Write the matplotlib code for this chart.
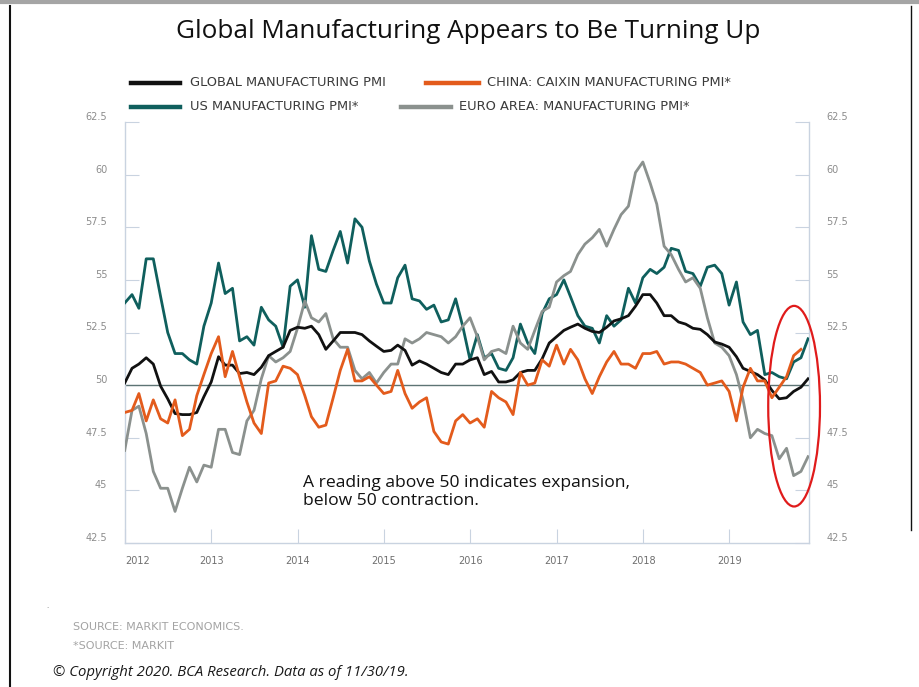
import numpy as np
import pandas as pd
import matplotlib
matplotlib.use("Agg")
import matplotlib.pyplot as plt
import matplotlib.dates as mdates
from matplotlib.patches import Ellipse
from matplotlib.lines import Line2D
from matplotlib.transforms import ScaledTranslation

# monthly readings, Dec 2011 .. Nov 2019
global_pmi = [
    50.1, 50.8, 51.0, 51.3, 51.0, 49.95, 49.35, 48.65, 48.6, 48.6, 48.7, 49.45, 50.15, 51.35, 50.95, 50.95,
    50.55, 50.6, 50.5, 50.85, 51.4, 51.6, 51.8, 52.6, 52.75, 52.7, 52.8, 52.4, 51.7, 52.1, 52.5, 52.5,
    52.5, 52.4, 52.1, 51.85, 51.6, 51.65, 51.9, 51.65, 50.95, 51.15, 51.0, 50.8, 50.6, 50.5, 51.0, 51.0,
    51.2, 51.3, 50.5, 50.65, 50.15, 50.15, 50.25, 50.6, 50.7, 50.7, 51.25, 52.0, 52.3, 52.6, 52.75, 52.9,
    52.7, 52.55, 52.5, 52.75, 53.05, 53.15, 53.3, 53.75, 54.3, 54.3, 53.9, 53.3, 53.3, 53.0, 52.9, 52.7,
    52.65, 52.4, 52.05, 51.95, 51.8, 51.35, 50.8, 50.65, 50.5, 50.25, 49.75, 49.35, 49.4, 49.7, 49.9, 50.3,
]
us_pmi = [
    53.9, 54.3, 53.65, 56.0, 56.0, 54.2, 52.5, 51.5, 51.5, 51.2, 51.0, 52.8, 53.9, 55.8, 54.35, 54.6,
    52.1, 52.3, 51.9, 53.7, 53.1, 52.8, 51.8, 54.7, 55.0, 53.7, 57.1, 55.5, 55.4, 56.4, 57.3, 55.8,
    57.9, 57.5, 55.9, 54.8, 53.9, 53.9, 55.1, 55.7, 54.1, 54.0, 53.6, 53.8, 53.0, 53.1, 54.1, 52.8,
    51.2, 52.4, 51.3, 51.5, 50.8, 50.7, 51.3, 52.9, 52.0, 51.5, 53.4, 54.1, 54.3, 55.0, 54.2, 53.3,
    52.8, 52.7, 52.0, 53.3, 52.8, 53.1, 54.6, 53.9, 55.1, 55.5, 55.3, 55.6, 56.5, 56.4, 55.4, 55.3,
    54.7, 55.6, 55.7, 55.3, 53.8, 54.9, 53.0, 52.4, 52.6, 50.5, 50.6, 50.4, 50.3, 51.1, 51.3, 52.2,
]
euro_pmi = [
    46.9, 48.8, 49.0, 47.7, 45.9, 45.1, 45.1, 44.0, 45.1, 46.1, 45.4, 46.2, 46.1, 47.9, 47.9, 46.8,
    46.7, 48.3, 48.8, 50.3, 51.4, 51.1, 51.3, 51.6, 52.7, 54.0, 53.2, 53.0, 53.4, 52.2, 51.8, 51.8,
    50.7, 50.3, 50.6, 50.1, 50.6, 51.0, 51.0, 52.2, 52.0, 52.2, 52.5, 52.4, 52.3, 52.0, 52.3, 52.8,
    53.2, 52.3, 51.2, 51.6, 51.7, 51.5, 52.8, 52.0, 51.7, 52.6, 53.5, 53.7, 54.9, 55.2, 55.4, 56.2,
    56.7, 57.0, 57.4, 56.6, 57.4, 58.1, 58.5, 60.1, 60.6, 59.6, 58.6, 56.6, 56.2, 55.5, 54.9, 55.1,
    54.6, 53.2, 52.0, 51.8, 51.4, 50.5, 49.3, 47.5, 47.9, 47.7, 47.6, 46.5, 47.0, 45.7, 45.9, 46.6,
]
# China ends one month earlier (Oct 2019)
china_pmi = [
    48.7, 48.8, 49.6, 48.3, 49.3, 48.4, 48.2, 49.3, 47.6, 47.9, 49.5, 50.5, 51.5, 52.3, 50.4, 51.6,
    50.4, 49.2, 48.2, 47.7, 50.1, 50.2, 50.9, 50.8, 50.5, 49.5, 48.5, 48.0, 48.1, 49.4, 50.7, 51.7,
    50.2, 50.2, 50.4, 50.0, 49.6, 49.7, 50.7, 49.6, 48.9, 49.2, 49.4, 47.8, 47.3, 47.2, 48.3, 48.6,
    48.2, 48.4, 48.0, 49.7, 49.4, 49.2, 48.6, 50.6, 50.0, 50.1, 51.2, 50.9, 51.9, 51.0, 51.7, 51.2,
    50.3, 49.6, 50.4, 51.1, 51.6, 51.0, 51.0, 50.8, 51.5, 51.5, 51.6, 51.0, 51.1, 51.1, 51.0, 50.8,
    50.6, 50.0, 50.1, 50.2, 49.7, 48.3, 49.9, 50.8, 50.2, 50.2, 49.4, 49.9, 50.4, 51.4, 51.7,
]
years = [2012, 2013, 2014, 2015, 2016, 2017, 2018, 2019]
y_ticks = [42.5, 45, 47.5, 50, 52.5, 55, 57.5, 60, 62.5]

dates = pd.date_range("2011-12-31", periods=len(global_pmi), freq="ME")

C_GLOBAL = "#111111"
C_CHINA = "#e35b1c"
C_US = "#0f5f5d"
C_EURO = "#8b918e"
C_AXIS = "#c9d3e0"
C_TICKTXT = "#8c8c8c"

fig = plt.figure(figsize=(9.2, 6.87), dpi=100)
W, H = 920, 687

def fx(px):
    return px / W

def fy(py):
    return 1 - py / H

ax = fig.add_axes([fx(124.7), fy(543), fx(809) - fx(124.7), fy(122) - fy(543)])

lw = 2.0
ax.plot(dates, global_pmi, color=C_GLOBAL, lw=lw, zorder=4)
ax.plot(dates[:len(china_pmi)], china_pmi, color=C_CHINA, lw=lw, zorder=5)
ax.plot(dates, us_pmi, color=C_US, lw=lw, zorder=3)
ax.plot(dates, euro_pmi, color=C_EURO, lw=lw, zorder=3.5)
ax.axhline(50, color="#5d7474", lw=1.0, zorder=2)

ax.set_ylim(42.5, 62.5)
ax.set_xlim(pd.Timestamp("2011-12-31"), pd.Timestamp("2019-12-04"))

for side in ["left", "right", "bottom"]:
    ax.spines[side].set_color(C_AXIS)
    ax.spines[side].set_linewidth(1.0)
ax.spines["top"].set_visible(False)

ax.set_yticks(y_ticks)
ax.set_yticklabels([f"{v:g}" for v in y_ticks])
ax.tick_params(axis="y", which="both", direction="in", length=10, color=C_AXIS,
               labelsize=7, labelcolor=C_TICKTXT, pad=12.5, left=True, right=True,
               labelleft=True, labelright=True)
# labels in the original sit a little above their ticks
up = ScaledTranslation(0, 6 / 100, fig.dpi_scale_trans)
for t in ax.yaxis.get_major_ticks():
    t.label1.set_transform(t.label1.get_transform() + up)
    t.label2.set_transform(t.label2.get_transform() + up)

ax.set_xticks([pd.Timestamp(f"{y}-01-01") for y in years])
ax.set_xticklabels([str(y) for y in years])
ax.tick_params(axis="x", direction="in", length=10, color=C_AXIS,
               labelsize=7, labelcolor="#6f6f6f", pad=9.5)
ax.get_xticklabels()[0].set_horizontalalignment("left")

# red ellipse highlight
e_center = mdates.date2num(pd.Timestamp("2019-10-02"))
ax.add_patch(Ellipse((e_center, 49.0), width=219, height=9.53, fill=False,
                     edgecolor="#e01b1b", lw=1.6, clip_on=False, zorder=6))

ax.text(0.26, 0.121, "A reading above 50 indicates expansion,\nbelow 50 contraction.",
        transform=ax.transAxes, fontsize=12.6, family="Open Sans", color="#111111",
        va="center", ha="left", linespacing=1.2)

# title
fig.text(fx(468), fy(31), "Global Manufacturing Appears to Be Turning Up",
         ha="center", va="center", fontsize=18.8, family="Open Sans", color="#111111")

# legend drawn by hand
legend_items = [
    (131, 180, 190, 83, C_GLOBAL, "GLOBAL MANUFACTURING PMI"),
    (426, 479, 487, 83, C_CHINA, "CHINA: CAIXIN MANUFACTURING PMI*"),
    (131, 180, 190, 107, C_US, "US MANUFACTURING PMI*"),
    (401, 451, 459, 107, C_EURO, "EURO AREA: MANUFACTURING PMI*"),
]
for x0, x1, xt, yy, col, label in legend_items:
    fig.add_artist(Line2D([fx(x0), fx(x1)], [fy(yy), fy(yy)], color=col, lw=3.2,
                          transform=fig.transFigure))
    fig.text(fx(xt), fy(yy), label, ha="left", va="center", fontsize=9.4,
             family="Liberation Sans Narrow", color="#3b3b3b")

# footer
fig.text(fx(73), fy(627), "SOURCE: MARKIT ECONOMICS.", ha="left", va="center",
         fontsize=8.0, family="Liberation Sans Narrow", color="#a3a3a3")
fig.text(fx(73), fy(646), "*SOURCE: MARKIT", ha="left", va="center",
         fontsize=8.0, family="Liberation Sans Narrow", color="#a3a3a3")
fig.text(fx(53), fy(673), "\u00a9 Copyright 2020. BCA Research. Data as of 11/30/19.",
         ha="left", va="center", fontsize=10.7, family="Open Sans", style="italic",
         color="#1a1a1a")
fig.text(fx(46), fy(606), ".", ha="left", va="center", fontsize=5, color="#777777")

# page frame
fig.add_artist(Line2D([0, 1], [fy(1.5), fy(1.5)], color="#a5a5a5", lw=3,
                      transform=fig.transFigure))
fig.add_artist(Line2D([fx(10), fx(10)], [fy(6), 0], color="#111111", lw=1.5,
                      transform=fig.transFigure))
fig.add_artist(Line2D([fx(911), fx(911)], [fy(6), fy(530)], color="#111111", lw=1.0,
                      transform=fig.transFigure))

fig.savefig("out.png", dpi=100)
